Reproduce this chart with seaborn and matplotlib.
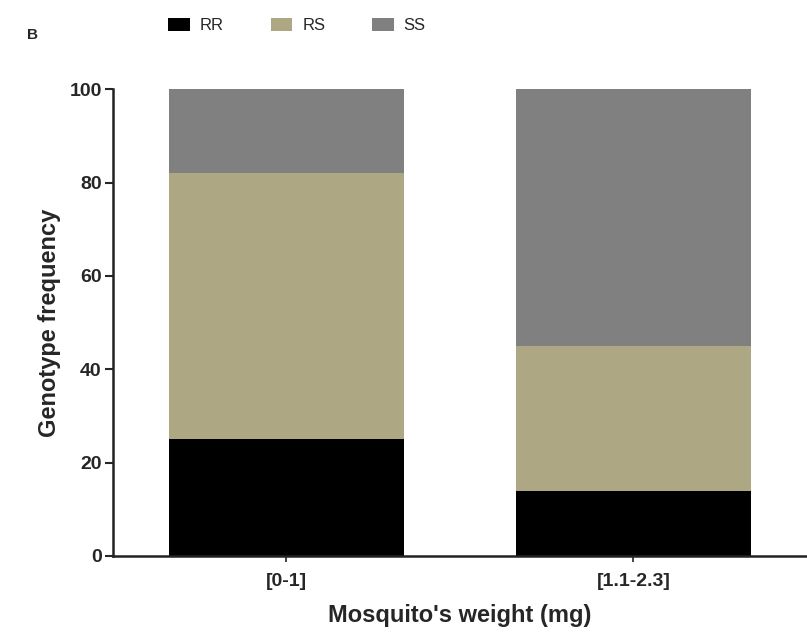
import matplotlib
matplotlib.use("Agg")
import matplotlib.pyplot as plt
import seaborn as sns
import pandas as pd
from matplotlib.patches import Patch

categories = ["[0-1]", "[1.1-2.3]"]
genotypes = ["RR", "RS", "SS"]
rr = [25, 14]
rs = [57, 31]
ss = [18, 55]
colors = {"RR": "#000000", "RS": "#ADA883", "SS": "#808080"}

sns.set_theme(style="ticks")
plt.rcParams["font.family"] = ["Liberation Sans", "DejaVu Sans"]

fig = plt.figure(figsize=(8.07, 6.42), dpi=100)
ax = fig.add_axes([0.140, 0.134, 0.86, 0.727])

cum_rs = [a + b for a, b in zip(rr, rs)]
cum_ss = [a + b + c for a, b, c in zip(rr, rs, ss)]

layers = [("SS", cum_ss), ("RS", cum_rs), ("RR", rr)]
for name, vals in layers:
    df = pd.DataFrame({"cat": categories, "val": vals})
    sns.barplot(data=df, x="cat", y="val", color=colors[name], width=0.68,
                ax=ax, saturation=1, edgecolor="none", linewidth=0)

ax.set_xlim(-0.5, 1.5)
ax.set_ylim(0, 100)
ax.set_yticks([0, 20, 40, 60, 80, 100])
ax.set_ylabel("Genotype frequency", fontsize=17, labelpad=6)
ax.set_xlabel("Mosquito's weight (mg)", fontsize=17, labelpad=10)
ax.tick_params(axis="y", labelsize=14, length=6, width=1.5, direction="out", pad=2)
ax.tick_params(axis="x", labelsize=14, length=4, width=1.2, direction="out", pad=8)
for lab in ax.get_yticklabels() + ax.get_xticklabels():
    lab.set_fontweight("bold")
ax.xaxis.label.set_fontweight("bold")
ax.yaxis.label.set_fontweight("bold")
for s in ["top", "right"]:
    ax.spines[s].set_visible(False)
for s in ["left", "bottom"]:
    ax.spines[s].set_linewidth(1.8)
    ax.spines[s].set_color("#222222")

handles = [Patch(facecolor=colors[g], edgecolor="none", label=g) for g in genotypes]
fig.legend(handles=handles, loc="center", bbox_to_anchor=(0.368, 0.96), ncol=3,
           frameon=False, fontsize=12, handlelength=1.3, handleheight=0.8,
           columnspacing=2.8, handletextpad=0.6)
fig.text(0.033, 0.945, "B", fontsize=11, fontweight="bold", ha="left", va="center")

fig.savefig("out.png", dpi=100)
